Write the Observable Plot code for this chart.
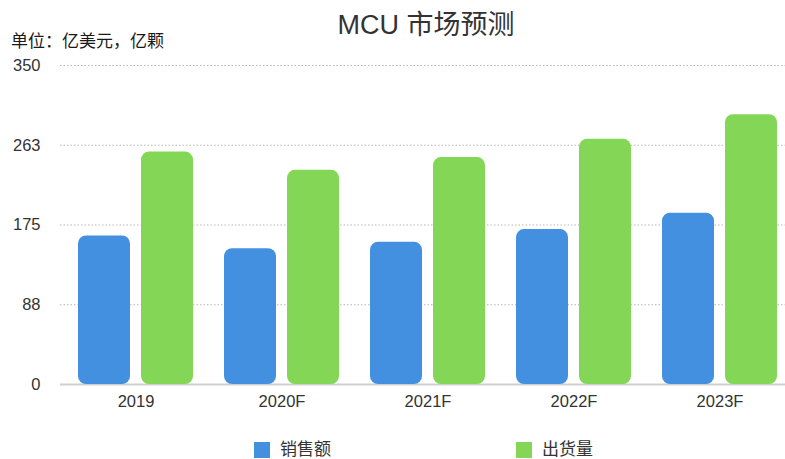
<!DOCTYPE html>
<html>
<head>
<meta charset="utf-8">
<script src="https://cdn.jsdelivr.net/npm/d3@7"></script>
<script src="https://cdn.jsdelivr.net/npm/@observablehq/plot@0.6"></script>
<style>
  html, body { margin: 0; padding: 0; background: #fff; }
  body { font-family: "Liberation Sans", "Noto Sans CJK SC", sans-serif; }
  #wrap { position: relative; width: 785px; height: 459px; overflow: hidden; }
  #title { position: absolute; left: 0; width: 852px; top: 12px; line-height: 27px; text-align: center; font-size: 27px; color: #333; }
  #unit { position: absolute; left: 11px; top: 33px; line-height: 17px; font-size: 17px; color: #1a1a1a; font-weight: 400; }
  #base, #chart { position: absolute; left: 0; top: 50px; }
  #legend { position: absolute; top: 441px; left: 0; width: 785px; font-size: 17px; line-height: 17px; color: #333; }
  .lg { position: absolute; display: flex; align-items: center; }
  .sw { width: 16px; height: 16px; margin-right: 10px; }
</style>
</head>
<body>
<div id="wrap">
  <div id="title">MCU 市场预测</div>
  <div id="unit">单位：亿美元，亿颗</div>
  <div id="base"></div>
  <div id="chart"></div>
  <div id="legend"></div>
</div>
<script>
const years = ["2019", "2020F", "2021F", "2022F", "2023F"];
const seriesNames = ["销售额", "出货量"];
const sales = [163, 149, 156, 170, 188];
const shipments = [255, 235, 249, 269, 296];
const colors = ["#4390e1", "#84d756"];
const yTicks = [0, 87.5, 175, 262.5, 350];
const yTickLabels = ["0", "88", "175", "263", "350"];

const data = [];
years.forEach((yr, i) => {
  data.push({year: yr, series: seriesNames[0], value: sales[i]});
  data.push({year: yr, series: seriesNames[1], value: shipments[i]});
});

const common = {
  width: 785,
  height: 374,
  marginTop: 15,
  marginBottom: 40,
  marginLeft: 60,
  marginRight: 0,
  style: {fontFamily: '"Liberation Sans", "Noto Sans CJK SC", sans-serif', fontSize: "16.5px", color: "#333", background: "transparent"}
};

// Background: grid, y axis, baseline
const base = Plot.plot({
  ...common,
  y: {domain: [0, 350], axis: null},
  marks: [
    Plot.ruleY(yTicks.slice(1), {stroke: "#b5b5b5", strokeDasharray: "1.5,2", strokeWidth: 1}),
    Plot.axisY(yTicks, {anchor: "left", tickSize: 0, tickPadding: 20, fontSize: 16.5, tickFormat: d => yTickLabels[yTicks.indexOf(d)], label: null}),
    Plot.ruleY([0], {stroke: "#d0d0d0", strokeWidth: 2})
  ]
});
document.getElementById("base").appendChild(base);

// Bars: grouped via fx facets
const chart = Plot.plot({
  ...common,
  fx: {domain: years, paddingInner: 0.21, paddingOuter: 0.08, align: 0.7, axis: null},
  x: {domain: seriesNames, paddingInner: 0.18, paddingOuter: 0, axis: null},
  y: {domain: [0, 350], axis: null},
  color: {domain: seriesNames, range: colors},
  marks: [
    Plot.barY(data, {fx: "year", x: "series", y: "value", fill: "series", rx: 8}),
    Plot.axisFx({anchor: "bottom", tickSize: 0, tickPadding: 11, fontSize: 16.5, label: null})
  ]
});
document.getElementById("chart").appendChild(chart);

const legend = document.getElementById("legend");
const lgX = [254, 516];
seriesNames.forEach((s, i) => {
  const el = document.createElement("div");
  el.className = "lg";
  el.style.left = lgX[i] + "px";
  el.innerHTML = `<span class="sw" style="background:${colors[i]}"></span><span>${s}</span>`;
  legend.appendChild(el);
});
</script>
</body>
</html>
